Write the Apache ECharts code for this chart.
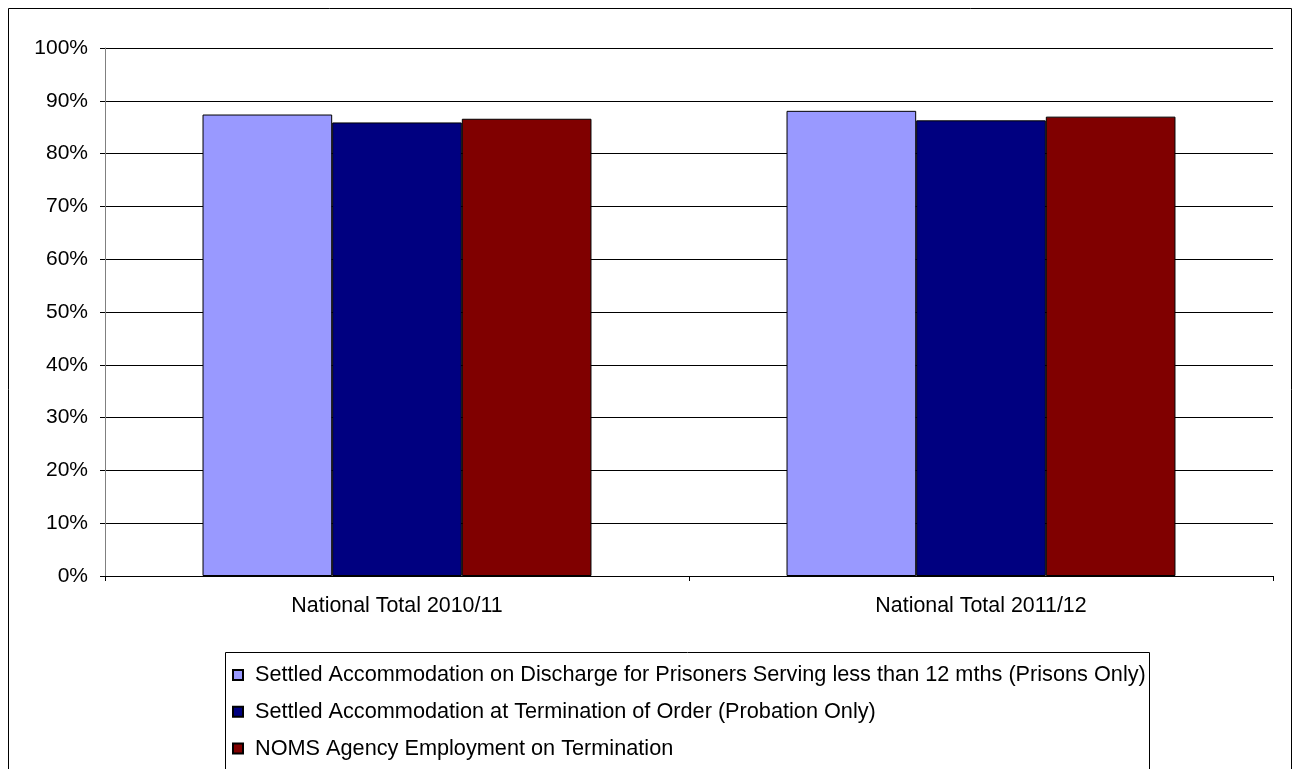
<!DOCTYPE html>
<html>
<head>
<meta charset="utf-8">
<script src="https://cdn.jsdelivr.net/npm/echarts@6/dist/echarts.min.js"></script>
<style>html,body{margin:0;padding:0;background:#fff}#c{width:1298px;height:769px}</style>
</head>
<body>
<div id="c"></div>
<script>
const categories = ['National Total 2010/11', 'National Total 2011/12'];
const seriesNames = [
  'Settled Accommodation on Discharge for Prisoners Serving less than 12 mths (Prisons Only)',
  'Settled Accommodation at Termination of Order (Probation Only)',
  'NOMS Agency Employment on Termination'
];
const prisonsValues = [0.874, 0.881];
const probationValues = [0.859, 0.863];
const employmentValues = [0.866, 0.870];
const yTicks = [0, 0.1, 0.2, 0.3, 0.4, 0.5, 0.6, 0.7, 0.8, 0.9, 1.0];
const colors = ['#9999FF', '#000080', '#800000'];

const FONT = '"Liberation Sans", Arial, sans-serif';
const chart = echarts.init(document.getElementById('c'));
const values = [prisonsValues, probationValues, employmentValues];
chart.setOption({
  animation: false,
  textStyle: {fontFamily: FONT},
  graphic: [
    {type: 'rect', shape: {x: 8.5, y: 8.5, width: 1283, height: 800}, style: {fill: 'none', stroke: '#000', lineWidth: 1}, z: -1},
    {type: 'rect', shape: {x: 225.5, y: 652.5, width: 924, height: 200}, style: {fill: 'none', stroke: '#000', lineWidth: 1}, z: -1}
  ],
  grid: {left: 105, right: 25, top: 48, bottom: 193},
  legend: {
    orient: 'vertical', left: 227, top: 659,
    itemWidth: 10, itemHeight: 10, itemGap: 14.8,
    icon: 'rect',
    textStyle: {fontSize: 21.7, color: '#000', fontFamily: FONT, padding: [0, 0, 0, 7]},
    data: seriesNames
  },
  xAxis: {
    type: 'category', data: categories,
    axisLine: {lineStyle: {color: '#000', width: 1}},
    axisTick: {show: true, length: 5, lineStyle: {color: '#000'}},
    axisLabel: {fontSize: 21.4, color: '#000', margin: 20, fontFamily: FONT}
  },
  yAxis: {
    type: 'value', min: 0, max: 1, interval: 0.1,
    axisLine: {show: true, lineStyle: {color: '#808080'}},
    axisTick: {show: true, length: 5, lineStyle: {color: '#000'}},
    splitLine: {lineStyle: {color: '#000', width: 1}},
    axisLabel: {fontSize: 21, color: '#000', margin: 17, fontFamily: FONT,
      formatter: v => Math.round(v * 100) + '%'}
  },
  series: seriesNames.map((n, i) => ({
    name: n, type: 'bar', data: values[i],
    barGap: '0%', barCategoryGap: '33.4%',
    itemStyle: {color: colors[i], borderColor: '#000', borderWidth: 1}
  }))
});
</script>
</body>
</html>
